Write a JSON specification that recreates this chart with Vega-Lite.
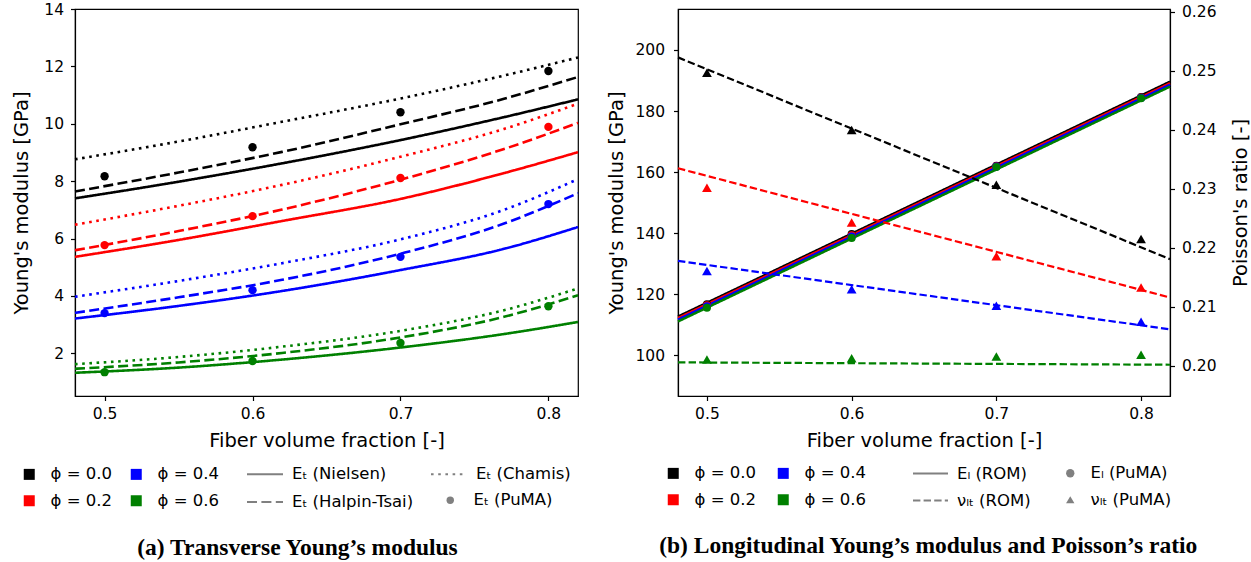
{
 "$schema": "https://vega.github.io/schema/vega-lite/v6.json",
 "background": "white",
 "padding": {"left": 11, "top": 1, "right": 3, "bottom": 3},
 "bounds": "flush",
 "spacing": 100,
 "config": {
  "font": "DejaVu Sans",
  "view": {"stroke": "black", "strokeWidth": 1.2},
  "axis": {"grid": false, "domainColor": "black", "domainWidth": 1.2, "tickColor": "black", "tickWidth": 1.2, "tickSize": 4.5, "labelColor": "black", "titleColor": "black", "labelFont": "DejaVu Sans", "titleFont": "DejaVu Sans", "labelFontSize": 15.5, "titleFontSize": 19.5, "titleFontWeight": "normal", "labelPadding": 6},
  "legend": {"labelFont": "DejaVu Sans", "labelFontSize": 16.5, "labelColor": "black", "padding": 0},
  "point": {"opacity": 1},
  "title": {"font": "Liberation Serif", "fontSize": 23.5, "fontWeight": "bold", "color": "black"}
 },
 "datasets": {
  "left": [
   {"x":0.48,"phi":"0.0","model":"Nielsen","E":7.40},{"x":0.55,"phi":"0.0","model":"Nielsen","E":7.98},{"x":0.62,"phi":"0.0","model":"Nielsen","E":8.62},{"x":0.70,"phi":"0.0","model":"Nielsen","E":9.43},{"x":0.77,"phi":"0.0","model":"Nielsen","E":10.23},{"x":0.82,"phi":"0.0","model":"Nielsen","E":10.85},
   {"x":0.48,"phi":"0.0","model":"Halpin-Tsai","E":7.64},{"x":0.55,"phi":"0.0","model":"Halpin-Tsai","E":8.30},{"x":0.62,"phi":"0.0","model":"Halpin-Tsai","E":9.02},{"x":0.70,"phi":"0.0","model":"Halpin-Tsai","E":9.98},{"x":0.77,"phi":"0.0","model":"Halpin-Tsai","E":10.87},{"x":0.82,"phi":"0.0","model":"Halpin-Tsai","E":11.63},
   {"x":0.48,"phi":"0.0","model":"Chamis","E":8.76},{"x":0.55,"phi":"0.0","model":"Chamis","E":9.38},{"x":0.62,"phi":"0.0","model":"Chamis","E":10.07},{"x":0.70,"phi":"0.0","model":"Chamis","E":10.88},{"x":0.77,"phi":"0.0","model":"Chamis","E":11.68},{"x":0.82,"phi":"0.0","model":"Chamis","E":12.31},
   {"x":0.48,"phi":"0.2","model":"Nielsen","E":5.36},{"x":0.55,"phi":"0.2","model":"Nielsen","E":5.95},{"x":0.62,"phi":"0.2","model":"Nielsen","E":6.61},{"x":0.70,"phi":"0.2","model":"Nielsen","E":7.38},{"x":0.77,"phi":"0.2","model":"Nielsen","E":8.28},{"x":0.82,"phi":"0.2","model":"Nielsen","E":9.01},
   {"x":0.48,"phi":"0.2","model":"Halpin-Tsai","E":5.59},{"x":0.55,"phi":"0.2","model":"Halpin-Tsai","E":6.26},{"x":0.62,"phi":"0.2","model":"Halpin-Tsai","E":7.01},{"x":0.70,"phi":"0.2","model":"Halpin-Tsai","E":8.05},{"x":0.77,"phi":"0.2","model":"Halpin-Tsai","E":9.12},{"x":0.82,"phi":"0.2","model":"Halpin-Tsai","E":10.03},
   {"x":0.48,"phi":"0.2","model":"Chamis","E":6.48},{"x":0.55,"phi":"0.2","model":"Chamis","E":7.14},{"x":0.62,"phi":"0.2","model":"Chamis","E":7.87},{"x":0.70,"phi":"0.2","model":"Chamis","E":8.85},{"x":0.77,"phi":"0.2","model":"Chamis","E":9.82},{"x":0.82,"phi":"0.2","model":"Chamis","E":10.70},
   {"x":0.48,"phi":"0.4","model":"Nielsen","E":3.21},{"x":0.55,"phi":"0.4","model":"Nielsen","E":3.65},{"x":0.62,"phi":"0.4","model":"Nielsen","E":4.17},{"x":0.70,"phi":"0.4","model":"Nielsen","E":4.90},{"x":0.77,"phi":"0.4","model":"Nielsen","E":5.64},{"x":0.82,"phi":"0.4","model":"Nielsen","E":6.40},
   {"x":0.48,"phi":"0.4","model":"Halpin-Tsai","E":3.41},{"x":0.55,"phi":"0.4","model":"Halpin-Tsai","E":3.95},{"x":0.62,"phi":"0.4","model":"Halpin-Tsai","E":4.56},{"x":0.70,"phi":"0.4","model":"Halpin-Tsai","E":5.47},{"x":0.77,"phi":"0.4","model":"Halpin-Tsai","E":6.52},{"x":0.82,"phi":"0.4","model":"Halpin-Tsai","E":7.58},
   {"x":0.48,"phi":"0.4","model":"Chamis","E":3.97},{"x":0.55,"phi":"0.4","model":"Chamis","E":4.52},{"x":0.62,"phi":"0.4","model":"Chamis","E":5.14},{"x":0.70,"phi":"0.4","model":"Chamis","E":5.97},{"x":0.77,"phi":"0.4","model":"Chamis","E":7.00},{"x":0.82,"phi":"0.4","model":"Chamis","E":8.07},
   {"x":0.48,"phi":"0.6","model":"Nielsen","E":1.32},{"x":0.55,"phi":"0.6","model":"Nielsen","E":1.50},{"x":0.62,"phi":"0.6","model":"Nielsen","E":1.78},{"x":0.70,"phi":"0.6","model":"Nielsen","E":2.20},{"x":0.77,"phi":"0.6","model":"Nielsen","E":2.67},{"x":0.82,"phi":"0.6","model":"Nielsen","E":3.09},
   {"x":0.48,"phi":"0.6","model":"Halpin-Tsai","E":1.46},{"x":0.55,"phi":"0.6","model":"Halpin-Tsai","E":1.68},{"x":0.62,"phi":"0.6","model":"Halpin-Tsai","E":2.01},{"x":0.70,"phi":"0.6","model":"Halpin-Tsai","E":2.55},{"x":0.77,"phi":"0.6","model":"Halpin-Tsai","E":3.27},{"x":0.82,"phi":"0.6","model":"Halpin-Tsai","E":4.02},
   {"x":0.48,"phi":"0.6","model":"Chamis","E":1.62},{"x":0.55,"phi":"0.6","model":"Chamis","E":1.87},{"x":0.62,"phi":"0.6","model":"Chamis","E":2.23},{"x":0.70,"phi":"0.6","model":"Chamis","E":2.78},{"x":0.77,"phi":"0.6","model":"Chamis","E":3.50},{"x":0.82,"phi":"0.6","model":"Chamis","E":4.26},
   {"x":0.5,"phi":"0.0","model":"PuMA","E":8.17},{"x":0.6,"phi":"0.0","model":"PuMA","E":9.18},{"x":0.7,"phi":"0.0","model":"PuMA","E":10.40},{"x":0.8,"phi":"0.0","model":"PuMA","E":11.84},
   {"x":0.5,"phi":"0.2","model":"PuMA","E":5.77},{"x":0.6,"phi":"0.2","model":"PuMA","E":6.78},{"x":0.7,"phi":"0.2","model":"PuMA","E":8.11},{"x":0.8,"phi":"0.2","model":"PuMA","E":9.89},
   {"x":0.5,"phi":"0.4","model":"PuMA","E":3.40},{"x":0.6,"phi":"0.4","model":"PuMA","E":4.20},{"x":0.7,"phi":"0.4","model":"PuMA","E":5.36},{"x":0.8,"phi":"0.4","model":"PuMA","E":7.20},
   {"x":0.5,"phi":"0.6","model":"PuMA","E":1.34},{"x":0.6,"phi":"0.6","model":"PuMA","E":1.73},{"x":0.7,"phi":"0.6","model":"PuMA","E":2.36},{"x":0.8,"phi":"0.6","model":"PuMA","E":3.64}
  ],
  "right": [
   {"x":0.48,"phi":"0.0","series":"E_L (ROM)","v":112.7},{"x":0.82,"phi":"0.0","series":"E_L (ROM)","v":189.6},
   {"x":0.48,"phi":"0.2","series":"E_L (ROM)","v":112.2},{"x":0.82,"phi":"0.2","series":"E_L (ROM)","v":189.1},
   {"x":0.48,"phi":"0.4","series":"E_L (ROM)","v":111.7},{"x":0.82,"phi":"0.4","series":"E_L (ROM)","v":188.6},
   {"x":0.48,"phi":"0.6","series":"E_L (ROM)","v":111.1},{"x":0.82,"phi":"0.6","series":"E_L (ROM)","v":188.0},
   {"x":0.5,"phi":"0.0","series":"E_L (PuMA)","v":116.7},{"x":0.6,"phi":"0.0","series":"E_L (PuMA)","v":139.7},{"x":0.7,"phi":"0.0","series":"E_L (PuMA)","v":162.1},{"x":0.8,"phi":"0.0","series":"E_L (PuMA)","v":184.6},
   {"x":0.5,"phi":"0.2","series":"E_L (PuMA)","v":116.4},{"x":0.6,"phi":"0.2","series":"E_L (PuMA)","v":139.3},{"x":0.7,"phi":"0.2","series":"E_L (PuMA)","v":161.9},{"x":0.8,"phi":"0.2","series":"E_L (PuMA)","v":184.4},
   {"x":0.5,"phi":"0.4","series":"E_L (PuMA)","v":116.1},{"x":0.6,"phi":"0.4","series":"E_L (PuMA)","v":138.9},{"x":0.7,"phi":"0.4","series":"E_L (PuMA)","v":161.8},{"x":0.8,"phi":"0.4","series":"E_L (PuMA)","v":184.3},
   {"x":0.5,"phi":"0.6","series":"E_L (PuMA)","v":115.6},{"x":0.6,"phi":"0.6","series":"E_L (PuMA)","v":138.4},{"x":0.7,"phi":"0.6","series":"E_L (PuMA)","v":161.7},{"x":0.8,"phi":"0.6","series":"E_L (PuMA)","v":184.2},
   {"x":0.48,"phi":"0.0","series":"nu_LT (ROM)","v":0.2523},{"x":0.82,"phi":"0.0","series":"nu_LT (ROM)","v":0.2181},
   {"x":0.48,"phi":"0.2","series":"nu_LT (ROM)","v":0.2335},{"x":0.82,"phi":"0.2","series":"nu_LT (ROM)","v":0.2116},
   {"x":0.48,"phi":"0.4","series":"nu_LT (ROM)","v":0.2178},{"x":0.82,"phi":"0.4","series":"nu_LT (ROM)","v":0.2062},
   {"x":0.48,"phi":"0.6","series":"nu_LT (ROM)","v":0.2006},{"x":0.82,"phi":"0.6","series":"nu_LT (ROM)","v":0.2002},
   {"x":0.5,"phi":"0.0","series":"nu_LT (PuMA)","v":0.2497},{"x":0.6,"phi":"0.0","series":"nu_LT (PuMA)","v":0.2400},{"x":0.7,"phi":"0.0","series":"nu_LT (PuMA)","v":0.2307},{"x":0.8,"phi":"0.0","series":"nu_LT (PuMA)","v":0.2215},
   {"x":0.5,"phi":"0.2","series":"nu_LT (PuMA)","v":0.2302},{"x":0.6,"phi":"0.2","series":"nu_LT (PuMA)","v":0.2243},{"x":0.7,"phi":"0.2","series":"nu_LT (PuMA)","v":0.2186},{"x":0.8,"phi":"0.2","series":"nu_LT (PuMA)","v":0.2133},
   {"x":0.5,"phi":"0.4","series":"nu_LT (PuMA)","v":0.2161},{"x":0.6,"phi":"0.4","series":"nu_LT (PuMA)","v":0.2130},{"x":0.7,"phi":"0.4","series":"nu_LT (PuMA)","v":0.2102},{"x":0.8,"phi":"0.4","series":"nu_LT (PuMA)","v":0.2075},
   {"x":0.5,"phi":"0.6","series":"nu_LT (PuMA)","v":0.2011},{"x":0.6,"phi":"0.6","series":"nu_LT (PuMA)","v":0.2013},{"x":0.7,"phi":"0.6","series":"nu_LT (PuMA)","v":0.2016},{"x":0.8,"phi":"0.6","series":"nu_LT (PuMA)","v":0.2019}
  ]
 },
 "hconcat": [
  {
   "width": 503, "height": 387,
   "title": {"text": "(a) Transverse Young’s modulus", "orient": "bottom", "anchor": "middle", "frame": "bounds", "offset": 25},
   "data": {"name": "left"},
   "encoding": {
    "x": {"field": "x", "type": "quantitative", "scale": {"domain": [0.48, 0.82], "nice": false, "zero": false}, "axis": {"values": [0.5, 0.6, 0.7, 0.8], "format": ".1f", "title": "Fiber volume fraction [-]", "titlePadding": 9}},
    "y": {"field": "E", "type": "quantitative", "scale": {"domain": [0.51, 14], "nice": false, "zero": false}, "axis": {"values": [2, 4, 6, 8, 10, 12, 14], "title": "Young's modulus [GPa]", "titlePadding": 12, "labelPadding": 7}}
   },
   "layer": [
    {
     "transform": [{"filter": "datum.model !== 'PuMA'"}],
     "mark": {"type": "line", "strokeWidth": 2.6, "interpolate": "monotone"},
     "encoding": {
      "stroke": {"field": "phi", "type": "nominal", "scale": {"domain": ["0.0", "0.2", "0.4", "0.6"], "range": ["#000000", "#ff0000", "#0000ff", "#008000"]}, "legend": {"orient": "none", "legendX": -54, "legendY": 457, "columns": 2, "columnPadding": 16, "rowPadding": 9.5, "title": null, "symbolType": "square", "symbolSize": 121, "labelOffset": 13, "symbolStrokeWidth": 0, "labelExpr": "'ϕ = ' + datum.label"}},
      "strokeDash": {"field": "model", "type": "nominal", "scale": {"domain": ["Nielsen", "Halpin-Tsai", "Chamis"], "range": [[1, 0], [10, 4.4], [2.6, 4.6]]},
       "legend": {"orient": "none", "legendX": 171, "legendY": 446, "columns": 2, "columnPadding": 13, "rowPadding": -12, "title": null, "symbolType": "stroke", "symbolSize": 1296, "labelOffset": 8, "symbolStrokeColor": "#808080", "symbolStrokeWidth": 2, "labelExpr": "'Eₜ (' + datum.label + ')'"}}
     }
    },
    {
     "transform": [{"filter": "datum.model === 'PuMA'"}],
     "mark": {"type": "point", "filled": true, "size": 70, "opacity": 1, "strokeWidth": 0},
     "encoding": {
      "fill": {"field": "phi", "type": "nominal", "scale": {"domain": ["0.0", "0.2", "0.4", "0.6"], "range": ["#000000", "#ff0000", "#0000ff", "#008000"]}, "legend": {"orient": "none", "legendX": -54, "legendY": 457, "columns": 2, "columnPadding": 16, "rowPadding": 9.5, "title": null, "symbolType": "square", "symbolSize": 121, "labelOffset": 13, "symbolStrokeWidth": 0, "labelExpr": "'ϕ = ' + datum.label"}},
      "shape": {"field": "model", "type": "nominal", "scale": {"domain": ["PuMA"], "range": ["circle"]}, "legend": {"orient": "none", "legendX": 367, "legendY": 483, "title": null, "symbolSize": 55, "labelOffset": 15, "symbolFillColor": "#808080", "symbolStrokeWidth": 0, "labelExpr": "'Eₜ (' + datum.label + ')'"}}
     }
    }
   ]
  },
  {
   "width": 492, "height": 387,
   "title": {"text": "(b) Longitudinal Young’s modulus and Poisson’s ratio", "orient": "bottom", "anchor": "middle", "frame": "bounds", "offset": 25},
   "data": {"name": "right"},
   "encoding": {
    "x": {"field": "x", "type": "quantitative", "scale": {"domain": [0.48, 0.82], "nice": false, "zero": false}, "axis": {"values": [0.5, 0.6, 0.7, 0.8], "format": ".1f", "title": "Fiber volume fraction [-]", "titlePadding": 9}}
   },
   "layer": [
    {
     "transform": [{"filter": "indexof(datum.series, 'E_L') === 0"}],
     "encoding": {"y": {"field": "v", "type": "quantitative", "scale": {"domain": [86.7, 213.4], "nice": false, "zero": false}, "axis": {"values": [100, 120, 140, 160, 180, 200], "title": "Young's modulus [GPa]", "titlePadding": 8, "labelPadding": 9}}},
     "layer": [
      {
       "transform": [{"filter": "indexof(datum.series, 'ROM') >= 0"}],
       "mark": {"type": "line", "strokeWidth": 2.5},
       "encoding": {
        "stroke": {"field": "phi", "type": "nominal", "scale": {"domain": ["0.0", "0.2", "0.4", "0.6"], "range": ["#000000", "#ff0000", "#0000ff", "#008000"]}, "legend": {"orient": "none", "legendX": -13, "legendY": 456, "columns": 2, "columnPadding": 19, "rowPadding": 9.5, "title": null, "symbolType": "square", "symbolSize": 121, "labelOffset": 13, "symbolStrokeWidth": 0, "labelExpr": "'ϕ = ' + datum.label"}},
        "strokeDash": {"field": "series", "type": "nominal", "scale": {"domain": ["E_L (ROM)", "nu_LT (ROM)"], "range": [[1, 0], [7.4, 3.2]]},
         "legend": {"orient": "none", "legendX": 234, "legendY": 446, "columns": 1, "rowPadding": -11, "title": null, "symbolType": "stroke", "symbolSize": 1225, "labelOffset": 8, "symbolStrokeColor": "#808080", "symbolStrokeWidth": 2, "labelExpr": "replace(replace(datum.label, 'E_L', 'Eₗ'), 'nu_LT', 'νₗₜ')"}}
       }
      },
      {
       "transform": [{"filter": "indexof(datum.series, 'PuMA') >= 0"}],
       "mark": {"type": "point", "filled": true, "size": 65, "opacity": 1, "strokeWidth": 0},
       "encoding": {
        "fill": {"field": "phi", "type": "nominal", "scale": {"domain": ["0.0", "0.2", "0.4", "0.6"], "range": ["#000000", "#ff0000", "#0000ff", "#008000"]}, "legend": {"orient": "none", "legendX": -13, "legendY": 456, "columns": 2, "columnPadding": 19, "rowPadding": 9.5, "title": null, "symbolType": "square", "symbolSize": 121, "labelOffset": 13, "symbolStrokeWidth": 0, "labelExpr": "'ϕ = ' + datum.label"}},
        "shape": {"field": "series", "type": "nominal", "scale": {"domain": ["E_L (PuMA)", "nu_LT (PuMA)"], "range": ["circle", "triangle-up"]}, "legend": {"orient": "none", "legendX": 384, "legendY": 456, "columns": 1, "rowPadding": 9.5, "title": null, "symbolSize": 70, "labelOffset": 12, "symbolFillColor": "#808080", "symbolStrokeWidth": 0, "labelExpr": "replace(replace(datum.label, 'E_L', 'Eₗ'), 'nu_LT', 'νₗₜ')"}}
       }
      }
     ]
    },
    {
     "transform": [{"filter": "indexof(datum.series, 'nu_LT') === 0"}],
     "encoding": {"y": {"field": "v", "type": "quantitative", "scale": {"domain": [0.1949, 0.2605], "nice": false, "zero": false}, "axis": {"orient": "right", "values": [0.20, 0.21, 0.22, 0.23, 0.24, 0.25, 0.26], "format": ".2f", "title": "Poisson's ratio [-]", "titleAngle": 270, "titleBaseline": "top", "titlePadding": 15, "labelPadding": 7}}},
     "layer": [
      {
       "transform": [{"filter": "indexof(datum.series, 'ROM') >= 0"}],
       "mark": {"type": "line", "strokeWidth": 2.2},
       "encoding": {
        "stroke": {"field": "phi", "type": "nominal"},
        "strokeDash": {"field": "series", "type": "nominal"}
       }
      },
      {
       "transform": [{"filter": "indexof(datum.series, 'PuMA') >= 0"}],
       "mark": {"type": "point", "filled": true, "size": 95, "opacity": 1, "strokeWidth": 0},
       "encoding": {
        "fill": {"field": "phi", "type": "nominal"},
        "shape": {"field": "series", "type": "nominal"}
       }
      }
     ]
    }
   ],
   "resolve": {"scale": {"y": "independent"}}
  }
 ],
 "resolve": {"scale": {"stroke": "independent", "fill": "independent", "strokeDash": "independent", "shape": "independent"}, "legend": {"stroke": "independent", "fill": "independent", "strokeDash": "independent", "shape": "independent"}}
}
